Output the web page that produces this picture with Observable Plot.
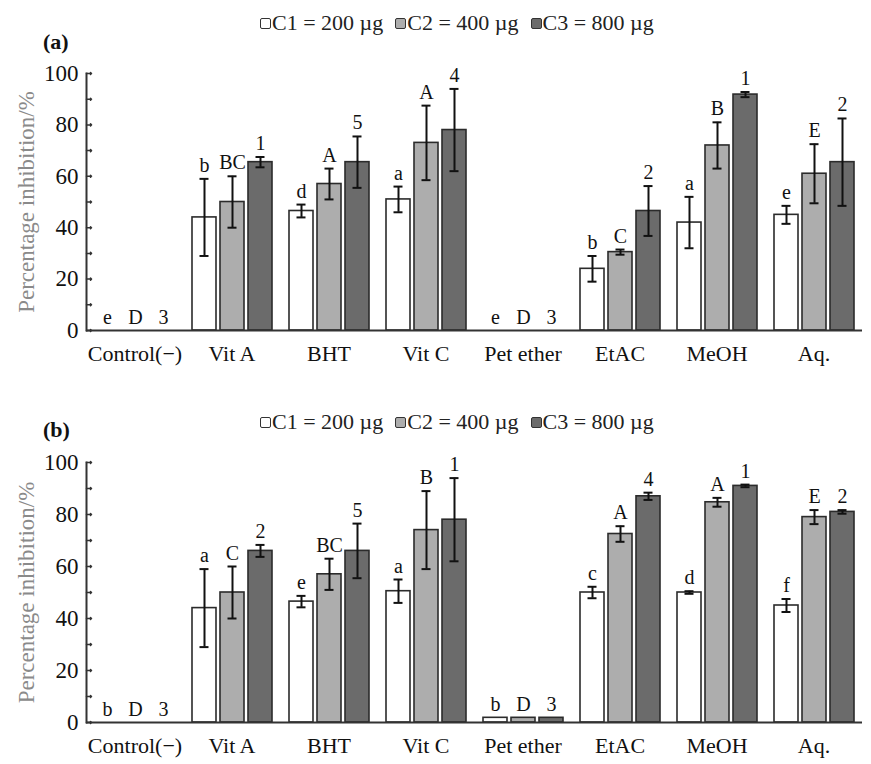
<!DOCTYPE html>
<html>
<head>
<meta charset="utf-8">
<script src="https://cdn.jsdelivr.net/npm/d3@7"></script>
<script src="https://cdn.jsdelivr.net/npm/@observablehq/plot@0.6"></script>
<style>
  html, body { margin: 0; padding: 0; background: #fff; }
  body { width: 871px; height: 764px; overflow: hidden; position: relative; font-family: "Liberation Serif", "DejaVu Serif", serif; }
  .panel-svg { position: absolute; left: 0; }
  .tag { position: absolute; font-weight: bold; font-size: 22px; line-height: 22px; color: #111; }
  .legend { position: absolute; left: 260px; display: flex; align-items: center; font-size: 22px; line-height: 22px; color: #222; white-space: nowrap; }
  .legend .item { display: flex; align-items: center; margin-right: 12px; }
  .legend .sw { width: 9px; height: 9px; border: 1.5px solid #333; border-radius: 2px; margin-right: 1px; }
</style>
</head>
<body>
<script>
// Sample groups and concentration levels
const groups = ["Control(−)", "Vit A", "BHT", "Vit C", "Pet ether", "EtAC", "MeOH", "Aq."];
const concentrations = ["C1", "C2", "C3"];
const legendLabels = ["C1 = 200 µg", "C2 = 400 µg", "C3 = 800 µg"];
const yTicks = [0, 10, 20, 30, 40, 50, 60, 70, 80, 90, 100];
const yTickLabels = [0, 20, 40, 60, 80, 100];

// Panel (a): mean inhibition (%), error and significance letters per concentration
const aC1 = [0, 44, 46.5, 51, 0, 24, 42, 45];
const aC2 = [0, 50, 57, 73, 0, 30.5, 72, 61];
const aC3 = [0, 65.5, 65.5, 78, 0, 46.5, 91.8, 65.5];
const aC1Err = [0, 15, 2.5, 5, 0, 5, 10, 3.5];
const aC2Err = [0, 10, 6, 14.5, 0, 1, 9, 11.5];
const aC3Err = [0, 2, 10, 16, 0, 9.7, 1, 17];
const aC1Letters = ["e", "b", "d", "a", "e", "b", "a", "e"];
const aC2Letters = ["D", "BC", "A", "A", "D", "C", "B", "E"];
const aC3Letters = ["3", "1", "5", "4", "3", "2", "1", "2"];

// Panel (b)
const bC1 = [0, 44, 46.5, 50.5, 1.8, 50, 50, 45];
const bC2 = [0, 50, 57, 74, 1.8, 72.5, 84.7, 79];
const bC3 = [0, 66, 66, 78, 1.8, 87, 91, 81];
const bC1Err = [0, 15, 2.2, 4.5, 0, 2.2, 0.5, 2.5];
const bC2Err = [0, 10, 6, 15, 0, 3, 1.7, 2.7];
const bC3Err = [0, 2.3, 10.5, 16, 0, 1.4, 0.5, 0.7];
const bC1Letters = ["b", "a", "e", "a", "b", "c", "d", "f"];
const bC2Letters = ["D", "C", "BC", "B", "D", "A", "A", "E"];
const bC3Letters = ["3", "2", "5", "1", "3", "4", "1", "2"];

const fills = ["#ffffff", "#adadad", "#6b6b6b"];
const serif = "'Liberation Serif', 'DejaVu Serif', serif";

function rowsFor(values, errors, letters) {
  return groups.flatMap((g, i) => concentrations.map((c, j) => ({
    group: g, conc: c, value: values[j][i], err: errors[j][i], letter: letters[j][i]
  })));
}

function panel({rows, top, height, marginTop, marginBottom, tag, tagTop, legendTop}) {
  const chart = Plot.plot({
    width: 871,
    height,
    marginLeft: 82,
    marginRight: 6,
    marginTop,
    marginBottom,
    style: {fontFamily: serif, fontSize: "22px", color: "#111", background: "transparent"},
    fx: {domain: groups, padding: 0, label: null, axis: "bottom", tickSize: 0, tickPadding: 15},
    x: {domain: concentrations, paddingInner: 0.16, paddingOuter: 0.3, axis: null},
    y: {domain: [0, 100], axis: null},
    color: {domain: concentrations, range: fills},
    marks: [
      Plot.barY(rows.filter(d => d.value > 0), {
        fx: "group", x: "conc", y: "value", fill: "conc", stroke: "#2b2b2b", strokeWidth: 1.6
      }),
      Plot.ruleX(rows.filter(d => d.err > 0), {
        fx: "group", x: "conc", y1: d => d.value - d.err, y2: d => d.value + d.err, stroke: "#111", strokeWidth: 2
      }),
      Plot.tickY(rows.filter(d => d.err > 0), {
        fx: "group", x: "conc", y: d => d.value - d.err, stroke: "#111", strokeWidth: 2, inset: 7.5
      }),
      Plot.tickY(rows.filter(d => d.err > 0), {
        fx: "group", x: "conc", y: d => d.value + d.err, stroke: "#111", strokeWidth: 2, inset: 7.5
      }),
      Plot.text(rows, {
        fx: "group", x: "conc", y: d => d.value + d.err, text: "letter",
        lineAnchor: "bottom", dy: -7, fontSize: 20, fill: "#111"
      }),
      Plot.ruleY([0], {stroke: "#333", strokeWidth: 2}),
      Plot.frame({anchor: "left", facetAnchor: "left", stroke: "#333", strokeWidth: 2}),
      // inward tick marks every 10 units
      Plot.vector(yTicks, {
        y: d => d, frameAnchor: "left", rotate: 90, length: 5, anchor: "start",
        facetAnchor: "left", stroke: "#333", strokeWidth: 1.5
      }),
      Plot.axisY({
        ticks: yTickLabels, tickSize: 0, tickPadding: 8, facetAnchor: "left",
        label: null, fontSize: 23, fill: "#111"
      }),
      Plot.text(["Percentage inhibition/%"], {
        frameAnchor: "left", textAnchor: "middle", rotate: -90, dx: -60,
        facetAnchor: "left", fill: "#8a8a8a", fontSize: 23
      })
    ]
  });
  chart.classList.add("panel-svg");
  chart.style.top = top + "px";
  document.body.appendChild(chart);

  const t = document.createElement("div");
  t.className = "tag";
  t.textContent = tag;
  t.style.left = "43px";
  t.style.top = tagTop + "px";
  document.body.appendChild(t);

  const legend = document.createElement("div");
  legend.className = "legend";
  legend.style.top = legendTop + "px";
  legendLabels.forEach((label, j) => {
    const item = document.createElement("div");
    item.className = "item";
    const sw = document.createElement("span");
    sw.className = "sw";
    sw.style.background = fills[j];
    const tx = document.createElement("span");
    tx.textContent = label;
    item.appendChild(sw);
    item.appendChild(tx);
    legend.appendChild(item);
  });
  document.body.appendChild(legend);
}

panel({
  rows: rowsFor([aC1, aC2, aC3], [aC1Err, aC2Err, aC3Err], [aC1Letters, aC2Letters, aC3Letters]),
  top: 0, height: 380, marginTop: 73, marginBottom: 50, tag: "(a)", tagTop: 31, legendTop: 12
});
panel({
  rows: rowsFor([bC1, bC2, bC3], [bC1Err, bC2Err, bC3Err], [bC1Letters, bC2Letters, bC3Letters]),
  top: 400, height: 362, marginTop: 62, marginBottom: 40, tag: "(b)", tagTop: 419, legendTop: 411
});
</script>
</body>
</html>
